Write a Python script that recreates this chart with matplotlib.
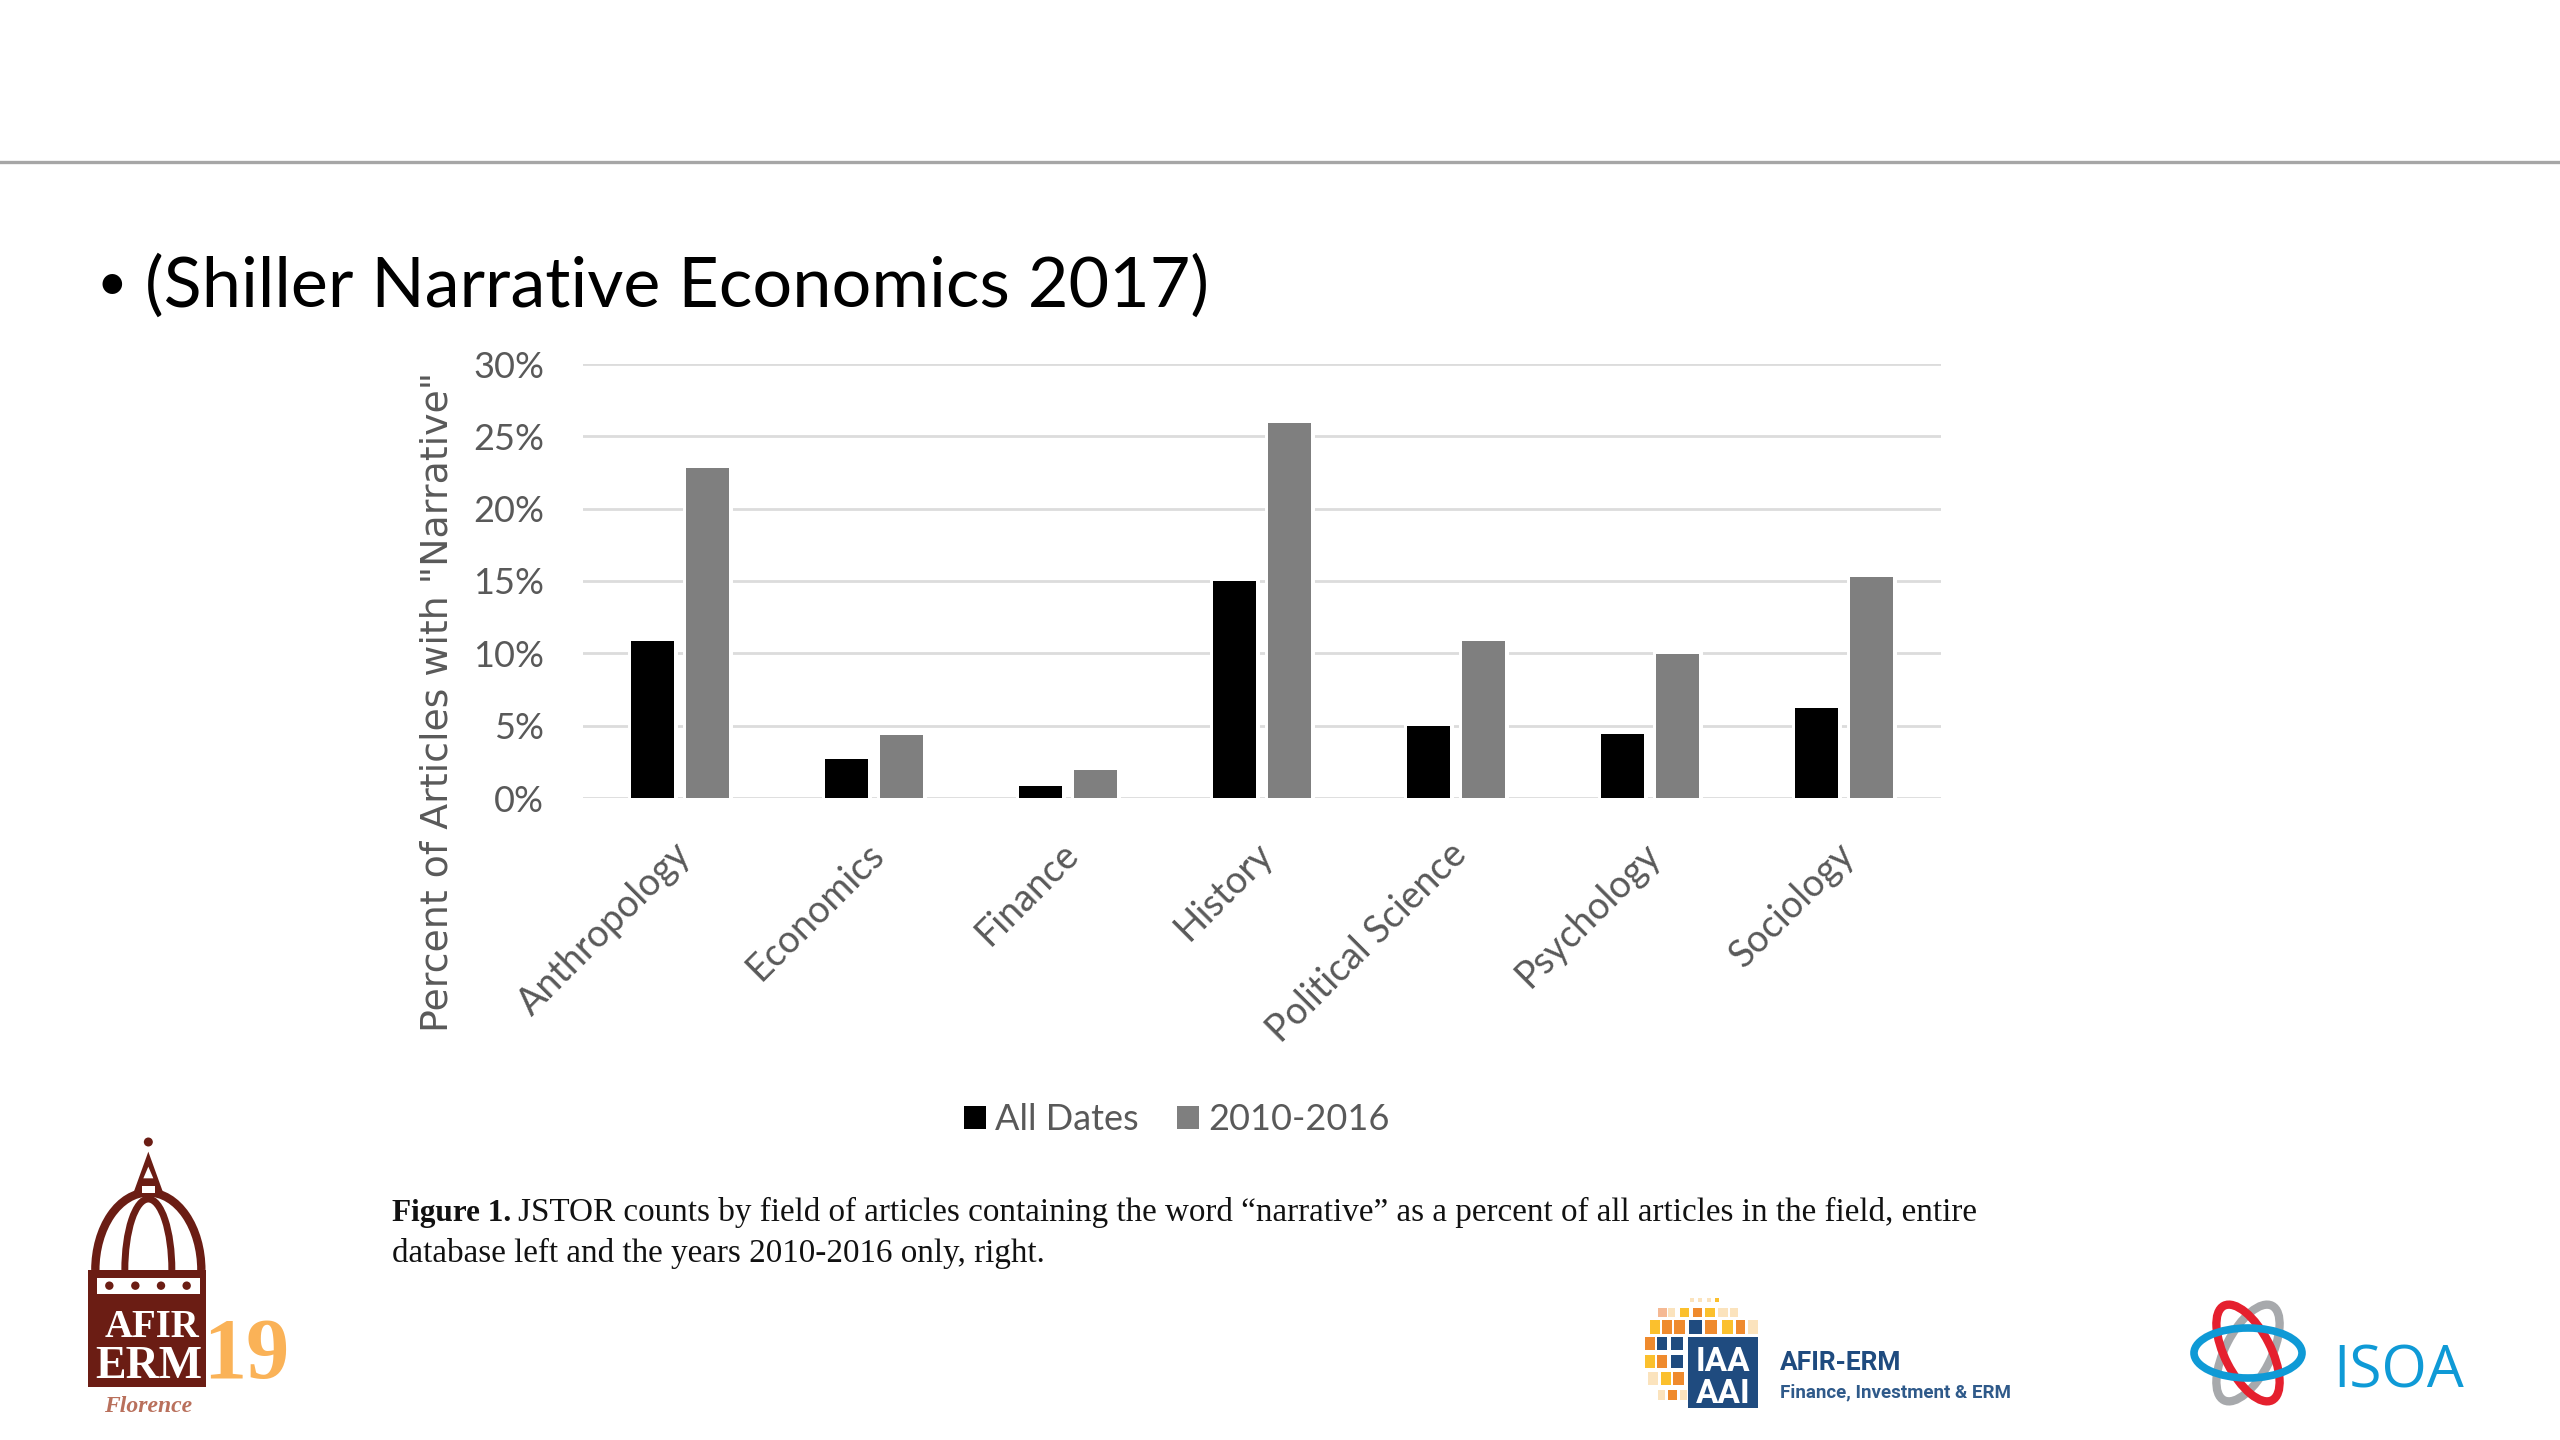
import numpy as np
import matplotlib
matplotlib.use("Agg")
import matplotlib.pyplot as plt
import matplotlib.patheffects as pe
from matplotlib.patches import Arc, Circle, Ellipse, Polygon, Rectangle
from matplotlib.ticker import PercentFormatter
from matplotlib.transforms import ScaledTranslation

# values, percent
fields = ["Anthropology", "Economics", "Finance", "History", "Political Science", "Psychology", "Sociology"]
all_dates = [10.85, 2.7, 0.85, 15.0, 4.95, 4.45, 6.2]
recent = [22.8, 4.35, 1.95, 25.95, 10.85, 9.95, 15.25]
y_ticks = [0, 5, 10, 15, 20, 25, 30]

W, H = 2560, 1440
TXT = "#595959"
RED = "#6b1d14"
NAVY = "#1f4b7f"
BLUE = "#0f9ad6"

fig = plt.figure(figsize=(W / 100, H / 100), dpi=100, facecolor="white")

# slide layer, everything on it is in pixels of the slide
bg = fig.add_axes([0, 0, 1, 1])
bg.set_xlim(0, W)
bg.set_ylim(H, 0)
bg.axis("off")

bg.plot([0, W], [162, 162], color="#a6a6a6", lw=2.4)
bg.text(97, 300, "•", fontsize=38, family="Lato", color="black", va="baseline")
bg.text(145, 307, "(Shiller Narrative Economics 2017)", fontsize=50.5, family="Lato", color="black", va="baseline")
bg.add_patch(Rectangle((130, 321), 1100, 30, fc="white", ec="none", zorder=2))

# caption
bg.text(392, 1221, "Figure 1.", fontsize=22.5, family="Liberation Serif", weight="bold", color="#111111", va="baseline")
bg.text(518, 1221, "JSTOR counts by field of articles containing the word “narrative” as a percent of all articles in the field, entire",
        fontsize=23.85, family="Liberation Serif", color="#111111", va="baseline")
bg.text(392, 1262, "database left and the years 2010-2016 only, right.", fontsize=23.85, family="Liberation Serif",
        color="#111111", va="baseline")


# AFIR logo, z coordinates come from a 3x crop
def zx(v):
    return 60 + v / 3


def zy(v):
    return 1120 + v / 3


bg.add_patch(Rectangle((zx(85), zy(450)), 118, 117, fc=RED, ec="none"))
bg.add_patch(Rectangle((zx(110), zy(473)), 103, 16, fc="white", ec="none"))
for dot in [148, 226, 303, 380]:
    bg.add_patch(Circle((zx(dot), zy(497)), 4.2, fc=RED, ec="none"))
bg.add_patch(Arc((zx(265), zy(450)), 106, 155, theta1=180, theta2=360, color=RED, lw=6))
bg.add_patch(Arc((zx(265), zy(450)), 47, 142, theta1=180, theta2=360, color=RED, lw=5))
bg.add_patch(Polygon([(zx(218), zy(225)), (zx(265), zy(95)), (zx(312), zy(225))], fc=RED, ec="none"))
bg.add_patch(Polygon([(zx(250), zy(175)), (zx(265), zy(140)), (zx(280), zy(175))], fc="white", ec="none"))
bg.add_patch(Rectangle((zx(245), zy(197)), 13, 7, fc="white", ec="none"))
bg.add_patch(Circle((zx(265), zy(66)), 4.5, fc=RED, ec="none"))
bg.text(zx(277), zy(650), "AFIR", fontsize=28, family="Liberation Serif", weight="bold", color="white", ha="center", va="baseline")
bg.text(zx(265), zy(775), "ERM", fontsize=33, family="Liberation Serif", weight="bold", color="white", ha="center", va="baseline")
bg.text(zx(428), zy(775), "19", fontsize=62, family="Liberation Serif", weight="bold", color="#fab257", ha="left", va="baseline", zorder=0)
bg.text(zx(265), zy(875), "Florence", fontsize=17, family="Liberation Serif", style="italic", weight="bold", color="#b9705c", ha="center", va="baseline")

# IAA globe cells: top, bottom, colour, then left/right pairs (3x crop coordinates)
Y, O, P = "#fbc02d", "#ef8a2d", "#fbe3bd"
cells = [
    (40, 50, [(180, 192, P), (205, 217, P), (230, 242, P), (255, 267, Y)]),
    (68, 95, [(85, 110, "#f5b993"), (115, 135, P), (150, 178, Y), (188, 215, O), (225, 255, Y), (265, 295, P), (300, 325, P)]),
    (105, 148, [(60, 90, Y), (95, 125, O), (132, 165, O), (178, 215, NAVY), (225, 262, O), (275, 310, Y), (318, 345, O), (355, 385, P)]),
    (155, 195, [(45, 75, O), (82, 112, NAVY), (122, 160, NAVY)]),
    (210, 250, [(45, 75, Y), (82, 112, O), (122, 160, NAVY)]),
    (262, 300, [(55, 85, P), (92, 122, Y), (130, 162, O)]),
    (315, 345, [(85, 105, P), (115, 140, O), (150, 170, P)]),
]
for top, bottom, row in cells:
    for left, right, col in row:
        bg.add_patch(Rectangle((1630 + left / 3, 1285 + top / 3), (right - left) / 3, (bottom - top) / 3, fc=col, ec="none"))
bg.add_patch(Rectangle((1688, 1337), 70, 71, fc=NAVY, ec="none"))
bg.text(1723, 1371, "IAA", fontsize=24, family="Roboto", weight="bold", color="white", ha="center", va="baseline")
bg.text(1723, 1403, "AAI", fontsize=24, family="Roboto", weight="bold", color="white", ha="center", va="baseline")
bg.text(1780, 1370, "AFIR-ERM", fontsize=19, family="Roboto", weight="bold", color=NAVY, va="baseline")
bg.text(1780, 1397, "Finance, Investment & ERM", fontsize=13.5, family="Roboto", weight="bold", color="#2f5a8a", va="baseline")

# ISOA rings
bg.add_patch(Ellipse((2248, 1353), 106, 46, angle=117, fc="none", ec="#a7a9ac", lw=6))
bg.add_patch(Ellipse((2248, 1353), 106, 46, angle=63, fc="none", ec="#e5202e", lw=6))
bg.add_patch(Ellipse((2248, 1353), 108, 50, fc="none", ec=BLUE, lw=5.5))
bg.text(2333, 1387, "ISOA", fontsize=42, family="Open Sans", color=BLUE, va="baseline")

# the chart
left, right, top, bottom = 583, 1941, 364, 798
ax = fig.add_axes([left / W, 1 - bottom / H, (right - left) / W, (bottom - top) / H])
ax.patch.set_alpha(0)

x = np.arange(len(fields))
halo = [pe.withStroke(linewidth=5, foreground="white")]
b1 = ax.bar(x - 0.142, all_dates, 0.222, color="black", label="All Dates", zorder=3, path_effects=halo)
b2 = ax.bar(x + 0.142, recent, 0.222, color="#7f7f7f", label="2010-2016", zorder=3, path_effects=halo)

ax.set_xlim(-0.5, len(fields) - 0.5)
ax.set_ylim(0, 30)
ax.set_yticks(y_ticks)
ax.yaxis.set_major_formatter(PercentFormatter(decimals=0))
ax.grid(axis="y", color="#dcdcdc", lw=2)
ax.set_axisbelow(True)
for s in ax.spines.values():
    s.set_visible(False)
ax.tick_params(axis="y", length=0, pad=28, labelsize=26, labelcolor=TXT)
ax.tick_params(axis="x", length=0, pad=27)
for lab in ax.get_yticklabels():
    lab.set_family("Lato")

ax.set_xticks(x)
ax.set_xticklabels(fields, rotation=45, ha="right", va="top", rotation_mode="anchor",
                   family="Lato", fontsize=27, color=TXT)
shift = ScaledTranslation(-8 / 100, 0, fig.dpi_scale_trans)
for lab in ax.get_xticklabels():
    lab.set_transform(lab.get_transform() + shift)

bg.text(437, 702, 'Percent of Articles with "Narrative"', rotation=90, fontsize=27.3, family="DejaVu Sans",
        color=TXT, ha="center", va="center")

leg = ax.legend(handles=[b1, b2], loc="center", ncol=2, frameon=False, prop={"family": "Lato", "size": 26},
                labelcolor=TXT, handlelength=0.6, handleheight=0.6, handletextpad=0.27, columnspacing=1.05,
                bbox_to_anchor=(1177 / W, 1 - 1120 / H), bbox_transform=fig.transFigure)

plt.savefig("out.png", dpi=100)
